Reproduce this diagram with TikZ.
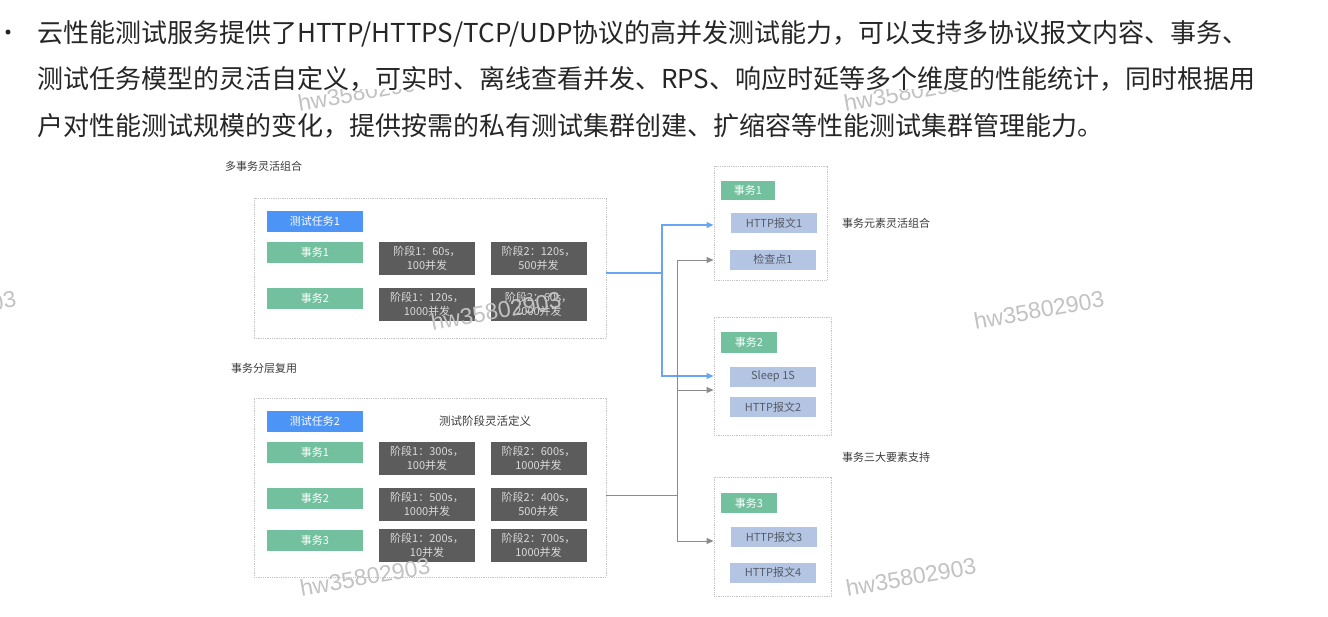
\documentclass[tikz,border=0pt]{standalone}
\usepackage{fontspec}
\setmainfont{Noto Sans CJK SC}
\newfontfamily\wmfont{Liberation Sans}
\usetikzlibrary{arrows.meta}
\definecolor{maintext}{HTML}{262626}
\definecolor{taskblue}{HTML}{4D94F7}
\definecolor{txgreen}{HTML}{72C09E}
\definecolor{darkbox}{HTML}{5C5C5C}
\definecolor{lav}{HTML}{B4C5E4}
\definecolor{lavtext}{HTML}{555B66}
\definecolor{bluec}{HTML}{6AA5F5}
\definecolor{greyc}{HTML}{8C8C8C}
\definecolor{borderc}{HTML}{C4C4C4}
\definecolor{labelc}{HTML}{3A3A3A}
\definecolor{wmc}{HTML}{C2C2C2}
\begin{document}
\begin{tikzpicture}[x=1pt,y=-1pt,
  boxsize/.style 2 args={minimum width=#1, minimum height=#2},
  container/.style={draw=borderc, line width=0.9pt, dash pattern=on 1pt off 0.8pt, inner sep=0pt},
  taskbox/.style={fill=taskblue, text=white, inner sep=0pt, font=\fontsize{11}{13}\selectfont},
  txbox/.style={fill=txgreen, text=white, inner sep=0pt, font=\fontsize{11}{13}\selectfont},
  stagebox/.style={fill=darkbox, text=white!85!black, inner sep=0pt, align=center, font=\fontsize{11}{14}\selectfont, boxsize={96pt}{33pt}},
  elembox/.style={fill=lav, text=lavtext, inner sep=0pt, font=\fontsize{11}{13}\selectfont, boxsize={86pt}{20pt}},
  lbl/.style={text=labelc, inner sep=0pt, anchor=west, font=\fontsize{11}{13}\selectfont},
  mainline/.style={text=maintext, inner sep=0pt, anchor=base west, text height=22pt, text depth=6pt, font=\fontsize{26}{30}\selectfont},
  wm/.style={text=wmc, inner sep=0pt, rotate=10, font=\wmfont\fontsize{23}{25}\selectfont},
  bline/.style={draw=bluec, line width=1.2pt},
  gline/.style={draw=greyc, line width=1pt},
  arr/.style={-{Triangle[length=7pt,width=6pt]}}
]
\useasboundingbox (0,0) rectangle (1328,616);

% watermarks partly hidden under the second text line
\node[wm] (w1) at (363,92) {hw35802903};
\node[wm] (w2) at (909,92) {hw35802903};

% bullet text
\node[circle, fill=maintext, inner sep=0pt, minimum size=5pt] (bul) at (8,32) {};
\node[mainline] (l1) at (37,42) {云性能测试服务提供了HTTP/HTTPS/TCP/UDP协议的高并发测试能力，可以支持多协议报文内容、事务、};
\node[mainline, fill=white, text depth=1pt] (l2) at (37,88) {测试任务模型的灵活自定义，可实时、离线查看并发、RPS、响应时延等多个维度的性能统计，同时根据用};
\node[mainline] (l3) at (37,135) {户对性能测试规模的变化，提供按需的私有测试集群创建、扩缩容等性能测试集群管理能力。};

% labels
\node[lbl] (lab1) at (225,166) {多事务灵活组合};
\node[lbl] (lab2) at (231,368) {事务分层复用};
\node[lbl] (lab3) at (842,223) {事务元素灵活组合};
\node[lbl] (lab4) at (842,457) {事务三大要素支持};

% top-left container
\node[container, boxsize={352pt}{140pt}] (topbox) at (430,268) {};
\node[taskbox, boxsize={96pt}{21pt}] (task1) at (315,221.5) {测试任务1};
\node[txbox, boxsize={96pt}{21pt}] (t1a) at (315,252.5) {事务1};
\node[txbox, boxsize={96pt}{21pt}] (t1b) at (315,298.5) {事务2};
\node[stagebox] (s11) at (427,258.5) {阶段1：60s，\\100并发};
\node[stagebox] (s12) at (538.5,258.5) {阶段2：120s，\\500并发};
\node[stagebox] (s21) at (427,304) {阶段1：120s，\\1000并发};
\node[stagebox] (s22) at (538.5,304) {阶段2：60s，\\2000并发};

% bottom-left container
\node[container, boxsize={352pt}{179pt}] (botbox) at (430,487.5) {};
\node[taskbox, boxsize={96pt}{21pt}] (task2) at (315,421.5) {测试任务2};
\node[text=labelc, inner sep=0pt, font=\fontsize{11.5}{13}\selectfont] (lab5) at (485,421) {测试阶段灵活定义};
\node[txbox, boxsize={96pt}{21pt}] (t2a) at (315,452.5) {事务1};
\node[txbox, boxsize={96pt}{21pt}] (t2b) at (315,498) {事务2};
\node[txbox, boxsize={96pt}{21pt}] (t2c) at (315,540) {事务3};
\node[stagebox] (b11) at (427,458.5) {阶段1：300s，\\100并发};
\node[stagebox] (b12) at (538.5,458.5) {阶段2：600s，\\1000并发};
\node[stagebox] (b21) at (427,504) {阶段1：500s，\\1000并发};
\node[stagebox] (b22) at (538.5,504) {阶段2：400s，\\500并发};
\node[stagebox] (b31) at (427,545.5) {阶段1：200s，\\10并发};
\node[stagebox] (b32) at (538.5,545.5) {阶段2：700s，\\1000并发};

% right containers
\node[container, boxsize={113pt}{114pt}] (boxA) at (770.5,223) {};
\node[txbox, boxsize={54pt}{19pt}] (ta) at (748,190.5) {事务1};
\node[elembox] (ea1) at (774,223) {HTTP报文1};
\node[elembox] (ea2) at (773,259.5) {检查点1};

\node[container, boxsize={117pt}{118pt}] (boxB) at (772.5,376) {};
\node[txbox, boxsize={56pt}{21pt}] (tb) at (749,342.5) {事务2};
\node[elembox] (eb1) at (773,376.5) {Sleep 1S};
\node[elembox] (eb2) at (773,407) {HTTP报文2};

\node[container, boxsize={117pt}{119pt}] (boxC) at (772.5,536.5) {};
\node[txbox, boxsize={56pt}{20pt}] (tc) at (749,503) {事务3};
\node[elembox] (ec1) at (774,537) {HTTP报文3};
\node[elembox] (ec2) at (773,572.5) {HTTP报文4};

% connectors
\coordinate (jb) at (662,273);
\coordinate (ya1) at (0,225);
\coordinate (yb1) at (0,376);
\draw[bline] (topbox.east |- jb) -- (jb);
\draw[bline, arr] (jb) |- (boxA.west |- ya1);
\draw[bline, arr] (jb) |- (boxB.west |- yb1);

\coordinate (jg) at (677,495);
\coordinate (ya2) at (0,260);
\coordinate (yb2) at (0,390);
\coordinate (yc) at (0,541);
\draw[gline] (botbox.east |- jg) -- (jg);
\draw[gline, arr] (jg) |- (boxA.west |- ya2);
\draw[gline, arr] (jg) |- (boxB.west |- yb2);
\draw[gline, arr] (jg) |- (boxC.west |- yc);

% watermarks on top
\node[wm] (w3) at (-49,310) {hw35802903};
\node[wm] (w4) at (1039,310) {hw35802903};
\node[wm] (w5) at (496,311) {hw35802903};
\node[wm] (w6) at (365,577) {hw35802903};
\node[wm] (w7) at (911,577) {hw35802903};
\end{tikzpicture}
\end{document}
